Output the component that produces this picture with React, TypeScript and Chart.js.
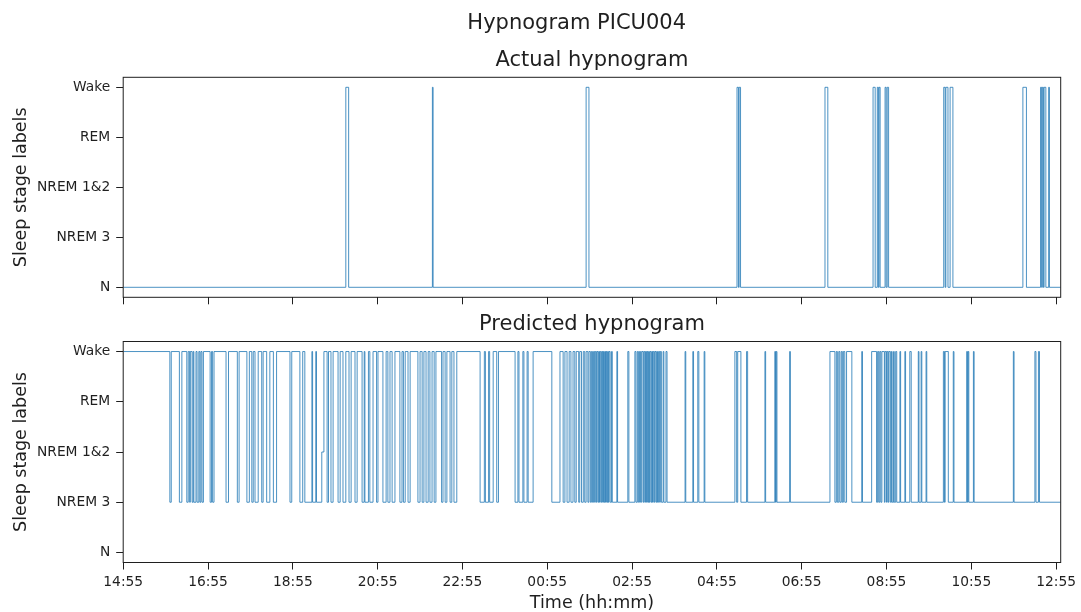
import { useEffect, useRef } from "react";
import { Chart, registerables } from "chart.js";

Chart.register(...registerables);

// Time axis: minutes since the recording started at 14:55, ticks every two hours.
const xTickLabels = ["14:55", "16:55", "18:55", "20:55", "22:55", "00:55", "02:55", "04:55", "06:55", "08:55", "10:55", "12:55"];
const xTickStepMin = 120;
const recordLengthMin = 1326.5;

// Stage codes 0..4 on the y axis.
const stageLabels = ["N", "NREM 3", "NREM 1&2", "REM", "Wake"];

// Scored hypnogram: [minute of change, stage code].
const actualSteps: [number, number][] = [
  [0, 0],
  [315, 4], [319, 0],
  [437.5, 4], [438.5, 0],
  [655, 4], [659, 0],
  [868.5, 4], [870.5, 0], [871.5, 4], [873.5, 0],
  [993, 4], [997, 0],
  [1061, 4], [1064, 0], [1067, 4], [1068.5, 0], [1069.5, 4], [1071, 0],
  [1078, 4], [1079.5, 0], [1081, 4], [1083, 0],
  [1161, 4], [1163, 0], [1164, 4], [1167, 0],
  [1170, 4], [1174, 0],
  [1273, 4], [1278, 0],
  [1298, 4], [1299.5, 0], [1300.5, 4], [1302, 0], [1303, 4], [1305.5, 0],
  [1309.5, 4], [1310.5, 0],
];

// Model output: [minute of change, stage code].
const predictedSteps: [number, number][] = [
  [0, 4],
  [66, 1], [68, 4], [79.5, 1], [83, 4], [90, 1], [92, 4], [94, 1], [95, 4],
  [97.5, 1], [99, 4], [100, 1], [103, 4], [104.5, 1], [107, 4], [108.5, 1], [110, 4],
  [111.5, 1], [113.5, 4], [123, 1], [125, 4], [126.5, 1], [128.5, 4], [145.5, 1], [149, 4],
  [161.5, 1], [164, 4], [175, 1], [178.5, 4], [182, 1], [184, 4], [186.5, 1], [191, 4],
  [196, 1], [198, 4], [203, 1], [207.5, 4], [212.5, 1], [217, 4], [236, 1], [238.5, 4],
  [250, 1], [254, 4],
  [257, 1], [267, 4], [268, 1], [272.5, 4], [273.5, 1], [281, 2], [284, 4],
  [288.5, 1], [290.5, 4], [294, 1], [297, 4], [304, 1], [307, 4], [311, 1], [315, 4],
  [319.5, 1], [322.5, 4], [328, 1], [331, 4], [338, 1], [341, 4], [342, 1], [347, 4],
  [349, 1], [353.5, 4], [358.5, 1], [360.5, 4], [367.5, 1], [372, 4], [374.5, 1], [377.5, 4],
  [380.5, 1], [384.5, 4], [391.5, 1], [394.5, 4], [396.5, 1], [399, 4], [403, 1], [406, 4],
  [417, 1], [420, 4], [423, 1], [425.5, 4], [428.5, 1], [431.5, 4], [434, 1], [437, 4],
  [440, 1], [442.5, 4], [450.5, 1], [452.5, 4], [455.5, 1], [458, 4], [462.5, 1], [465, 4],
  [468, 1], [472, 4],
  [505, 1], [511, 4], [512.5, 1], [517, 4], [518.5, 1], [523.5, 4],
  [528.5, 1], [531, 4],
  [554.5, 1], [558.5, 4], [560, 1], [565.5, 4], [567, 1], [571.5, 4], [573, 1], [580, 4],
  [606.5, 1], [618, 4], [622.5, 1], [625, 4], [628, 1], [631, 4], [633.5, 1], [636.5, 4],
  [639, 1], [641, 4], [644.5, 1], [646, 4], [648.5, 1], [651, 4], [653, 1], [655, 4],
  [657.5, 1], [659, 4], [661, 1], [662.5, 4], [664, 1], [665.5, 4], [667, 1], [668, 4],
  [669.5, 1], [670.5, 4], [672, 1], [673, 4], [674, 1], [675, 4], [676.5, 1], [677.5, 4],
  [678.5, 1], [679.5, 4], [680.5, 1], [681.5, 4], [682.5, 1], [683.5, 4], [684.5, 1], [685.5, 4],
  [686.5, 1], [687.5, 4], [689, 1],
  [691, 4], [692, 1], [698.5, 4], [699.5, 1], [714, 4], [715.5, 1], [724, 4], [725.5, 1],
  [727.5, 4], [729, 1], [730.5, 4], [732, 1], [733.5, 4], [735.5, 1], [736.5, 4], [738, 1],
  [739, 4], [740.5, 1], [741.5, 4], [742.5, 1], [743.5, 4], [744.5, 1], [745.5, 4], [747, 1],
  [748, 4], [749, 1], [750, 4], [751.5, 1], [752.5, 4], [754, 1], [755, 4], [756, 1],
  [757.5, 4], [759, 1], [760, 4], [761.5, 1],
  [764, 4], [765, 1], [768, 4], [769.5, 1], [795, 4], [796, 1], [806, 4], [807, 1],
  [813, 4], [814.5, 1], [822, 4], [823, 1],
  [865.5, 4], [868, 1], [869.5, 4], [874, 1],
  [882, 4], [883.5, 1], [908, 4], [909, 1], [922, 4], [923, 1], [924, 4], [925, 1], [943, 4], [944, 1],
  [1000, 4], [1007, 1], [1009, 4], [1010.5, 1], [1012.5, 4], [1014, 1], [1016, 4], [1017.5, 1],
  [1019, 4], [1021, 1], [1023.5, 4], [1031, 1],
  [1045, 4], [1046, 1],
  [1059, 4], [1066, 1], [1067.5, 4], [1069, 1], [1070.5, 4], [1072, 1], [1073.5, 4], [1077, 1],
  [1078, 4], [1080, 1], [1081, 4], [1082.5, 1], [1083.5, 4], [1085.5, 1], [1087, 4], [1088, 1],
  [1090, 4], [1091, 1], [1093, 4], [1094.5, 1],
  [1099, 4], [1100, 1], [1106, 4], [1107, 1], [1113, 4], [1115, 1], [1125, 4], [1126, 1],
  [1129, 4], [1130, 1], [1136, 4], [1137, 1],
  [1160.5, 4], [1162, 1], [1163, 4], [1167.5, 1],
  [1174.5, 4], [1175.5, 1], [1193.5, 4], [1194.5, 1], [1195.5, 4], [1196.5, 1], [1203, 4], [1204, 1],
  [1259.5, 4], [1260.5, 1], [1290, 4], [1291.5, 1], [1295, 4], [1296.5, 1],
];

const FONT = "'DejaVu Sans', sans-serif";
const INK = "#1f1f1f";
const LINE = "rgba(31, 119, 180, 0.8)";
const WIDTH = 1081;
const PANEL_H = 306;
const PLOT_LEFT = 123.2;
const PLOT_RIGHT = 1060.7;

// Draws the four spines around the plot area.
const framePlugin = {
  id: "frame",
  afterDatasetsDraw(chart: any) {
    const { ctx, chartArea: a } = chart;
    ctx.save();
    ctx.strokeStyle = INK;
    ctx.lineWidth = 1;
    ctx.strokeRect(a.left, a.top, a.right - a.left, a.bottom - a.top);
    ctx.restore();
  },
};

type PanelProps = {
  steps: [number, number][];
  title: string;
  titlePadTop: number;
  titlePadBottom: number;
  showTimeAxis: boolean;
  xAxisHeight: number;
  top: number;
};

function HypnogramPanel({ steps, title, titlePadTop, titlePadBottom, showTimeAxis, xAxisHeight, top }: PanelProps) {
  const ref = useRef<HTMLCanvasElement | null>(null);

  useEffect(() => {
    if (!ref.current) return;
    const points = steps.map(([x, y]) => ({ x, y }));
    points.push({ x: recordLengthMin, y: steps[steps.length - 1][1] });

    const tickFont = { family: FONT, size: 13.8 };

    const chart = new Chart(ref.current, {
      type: "line",
      data: {
        datasets: [
          {
            data: points,
            borderColor: LINE,
            borderWidth: 1,
            pointRadius: 0,
            stepped: true,
            fill: false,
            tension: 0,
          },
        ],
      },
      options: {
        animation: false,
        responsive: false,
        parsing: false,
        events: [],
        layout: { padding: { left: 0, right: WIDTH - PLOT_RIGHT, top: 0, bottom: 0 } },
        plugins: {
          legend: { display: false },
          tooltip: { enabled: false },
          title: {
            display: true,
            text: title,
            fullSize: false,
            color: INK,
            font: { family: FONT, size: 21, weight: "normal", lineHeight: 1.2 },
            padding: { top: titlePadTop, bottom: titlePadBottom },
          },
        },
        scales: {
          x: {
            type: "linear",
            min: 0,
            max: recordLengthMin,
            afterBuildTicks: (s: any) => {
              s.ticks = xTickLabels.map((_, i) => ({ value: i * xTickStepMin }));
            },
            afterFit: (s: any) => {
              s.height = xAxisHeight;
              s.paddingLeft = 0;
              s.paddingRight = 0;
            },
            ticks: {
              display: showTimeAxis,
              autoSkip: false,
              maxRotation: 0,
              padding: 5,
              color: INK,
              font: tickFont,
              callback: (_v: any, i: number) => xTickLabels[i],
            },
            grid: { display: true, drawOnChartArea: false, drawTicks: true, tickLength: 7, color: INK, lineWidth: 1 },
            border: { display: false },
            title: {
              display: showTimeAxis,
              text: "Time (hh:mm)",
              color: INK,
              font: { family: FONT, size: 17.5, lineHeight: 0.94 },
              padding: { top: 0, bottom: 0 },
            },
          },
          y: {
            type: "linear",
            min: -0.2,
            max: 4.2,
            afterBuildTicks: (s: any) => {
              s.ticks = stageLabels.map((_, i) => ({ value: i }));
            },
            afterFit: (s: any) => {
              s.width = PLOT_LEFT;
              s.paddingTop = 0;
              s.paddingBottom = 0;
            },
            ticks: {
              padding: 6,
              color: INK,
              font: tickFont,
              callback: (v: any) => stageLabels[Math.round(Number(v))],
            },
            grid: { display: true, drawOnChartArea: false, drawTicks: true, tickLength: 7, color: INK, lineWidth: 1 },
            border: { display: false },
            title: {
              display: true,
              text: "Sleep stage labels",
              color: INK,
              font: { family: FONT, size: 17.5, lineHeight: 1.2 },
              padding: { top: 10.5, bottom: 0 },
            },
          },
        },
      },
      plugins: [framePlugin],
    } as any);

    return () => chart.destroy();
  }, [steps, title, titlePadTop, titlePadBottom, showTimeAxis, xAxisHeight]);

  return (
    <canvas
      ref={ref}
      width={WIDTH}
      height={PANEL_H}
      style={{ position: "absolute", left: 0, top, width: WIDTH, height: PANEL_H }}
    />
  );
}

export default function App() {
  return (
    <div style={{ position: "fixed", left: 0, top: 0, width: WIDTH, height: 612, background: "#fff", overflow: "hidden" }}>
      <div
        style={{
          position: "absolute",
          left: 0,
          top: 10,
          width: 1153.4,
          textAlign: "center",
          fontFamily: FONT,
          fontSize: 21,
          lineHeight: "24px",
          color: INK,
          zIndex: 1,
        }}
      >
        Hypnogram PICU004
      </div>
      <HypnogramPanel
        steps={actualSteps}
        title="Actual hypnogram"
        titlePadTop={47.5}
        titlePadBottom={4.6}
        showTimeAxis={false}
        xAxisHeight={PANEL_H - 297.3}
        top={0}
      />
      <HypnogramPanel
        steps={predictedSteps}
        title="Predicted hypnogram"
        titlePadTop={5.7}
        titlePadBottom={4.6}
        showTimeAxis={true}
        xAxisHeight={PANEL_H - 256.5}
        top={306}
      />
    </div>
  );
}
